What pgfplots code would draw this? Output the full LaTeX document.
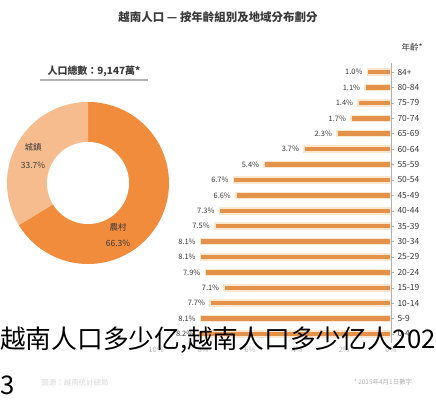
\documentclass[border=0pt]{standalone}
\usepackage{pgfplots}
\pgfplotsset{compat=1.18}
\usepackage{pgfplotstable}
\usepackage{fontspec}
\setmainfont{Noto Sans CJK TC}
\newfontfamily\scfont{Noto Sans CJK SC}
\definecolor{barc}{HTML}{E4924A}
\definecolor{barhalo}{HTML}{FBE6D0}
\definecolor{dk}{HTML}{F08C3C}
\definecolor{lt}{HTML}{F7BC8E}
\definecolor{txt}{HTML}{3A3A3A}
\definecolor{gr}{HTML}{B0B0B0}
\pgfplotstableread{
y  val
0  8.2
1  8.1
2  7.7
3  7.1
4  7.9
5  8.1
6  8.1
7  7.5
8  7.3
9  6.6
10 6.7
11 5.4
12 3.7
13 2.3
14 1.7
15 1.4
16 1.1
17 1.0
}\agedata
\begin{document}
\begin{tikzpicture}[x=1bp,y=1bp]
\useasboundingbox (0,0) rectangle (436,400);
% main title
\node[font=\fontsize{11.5}{13}\selectfont\bfseries, text=txt] at (218,383) {越南人口 — 按年齡組別及地域分布劃分};
% donut title
\node[font=\fontsize{10}{12}\selectfont\bfseries, text=txt] at (94,329) {人口總數：9,147萬*};
\draw[gr, line width=1.2bp] (40,320) -- (148,320);
% donut
\begin{axis}[at={(88bp,217bp)}, anchor=center, scale only axis,
  width=200bp, height=200bp, xmin=-100, xmax=100, ymin=-100, ymax=100,
  hide axis, clip=false]
\pgfmathsetmacro\rural{66.3}
\pgfmathsetmacro\urban{33.7}
\addplot[fill=dk, draw=none, domain={90-\rural*3.6}:90, samples=120]
  ({81*cos(x)},{81*sin(x)}) -- (axis cs:0,0) -- cycle;
\addplot[fill=lt, draw=none, domain=90:{90+\urban*3.6}, samples=80]
  ({81*cos(x)},{81*sin(x)}) -- (axis cs:0,0) -- cycle;
\addplot[fill=white, draw=none, domain=0:360, samples=120]
  ({41*cos(x)},{41*sin(x)}) -- cycle;
\node[font=\fontsize{8.5}{10}\selectfont, text=txt] at (axis cs:-55,36) {城鎮};
\node[font=\fontsize{8.5}{10}\selectfont, text=txt] at (axis cs:-55,18) {33.7\%};
\node[font=\fontsize{8.5}{10}\selectfont, text=txt] at (axis cs:30,-44) {農村};
\node[font=\fontsize{8.5}{10}\selectfont, text=txt] at (axis cs:30,-60) {66.3\%};
\end{axis}
% bar chart
\begin{axis}[at={(270bp,196.95bp)}, anchor=center, scale only axis,
  width=242bp, height=280.3bp,
  xbar, bar width=6bp, x dir=reverse,
  xmin=0, xmax=10.3, ymin=-0.6, ymax=17.6,
  axis line style={draw=none},
  xtick={0,2,4,6,8,10},
  xticklabel={\pgfmathprintnumber{\tick}\%},
  /pgf/number format/assume math mode=true,
  x tick label style={font=\fontsize{7.5}{9}\selectfont, text=gr},
  xtick style={draw=none},
  ytick={0,...,17},
  yticklabels={0-4,5-9,10-14,15-19,20-24,25-29,30-34,35-39,40-44,45-49,50-54,55-59,60-64,65-69,70-74,75-79,80-84,84+},
  yticklabel pos=right, ytick pos=right,
  y tick label style={font=\fontsize{8.5}{10}\selectfont, text=txt, anchor=west, xshift=0bp},
  ytick style={draw=gr, line width=0.5bp},
  major tick length=3bp,
  nodes near coords={\pgfmathprintnumber[fixed,precision=1,fixed zerofill]{\pgfplotspointmeta}\%},
  every node near coord/.append style={anchor=east, font=\fontsize{7.5}{9}\selectfont, text=txt, xshift=-1bp},
  clip=false]
\addplot[fill=barc, draw=barhalo, line width=1.5bp] table[x=val, y=y] {\agedata};
\draw[gr, line width=0.6bp] (axis cs:0,-0.6) -- (axis cs:0,17.6);
\end{axis}
\node[font=\fontsize{8.5}{10}\selectfont, text=txt] at (412,353) {年齡*};
% footnotes
\node[font=\fontsize{6.5}{8}\selectfont, text=gr] at (383,18) {* 2015年4月1日數字};
\node[font=\fontsize{7.5}{9}\selectfont, text=black!15] at (75,17) {圖源：越南統計總局};
% overlay caption
\node[anchor=west, inner sep=0pt, font=\scfont\fontsize{25.8}{26}\selectfont, text=black] at (0,60) {越南人口多少亿,越南人口多少亿人202};
\node[anchor=west, inner sep=0pt, font=\scfont\fontsize{25.8}{26}\selectfont, text=black] at (0,15) {3};
\end{tikzpicture}
\end{document}
